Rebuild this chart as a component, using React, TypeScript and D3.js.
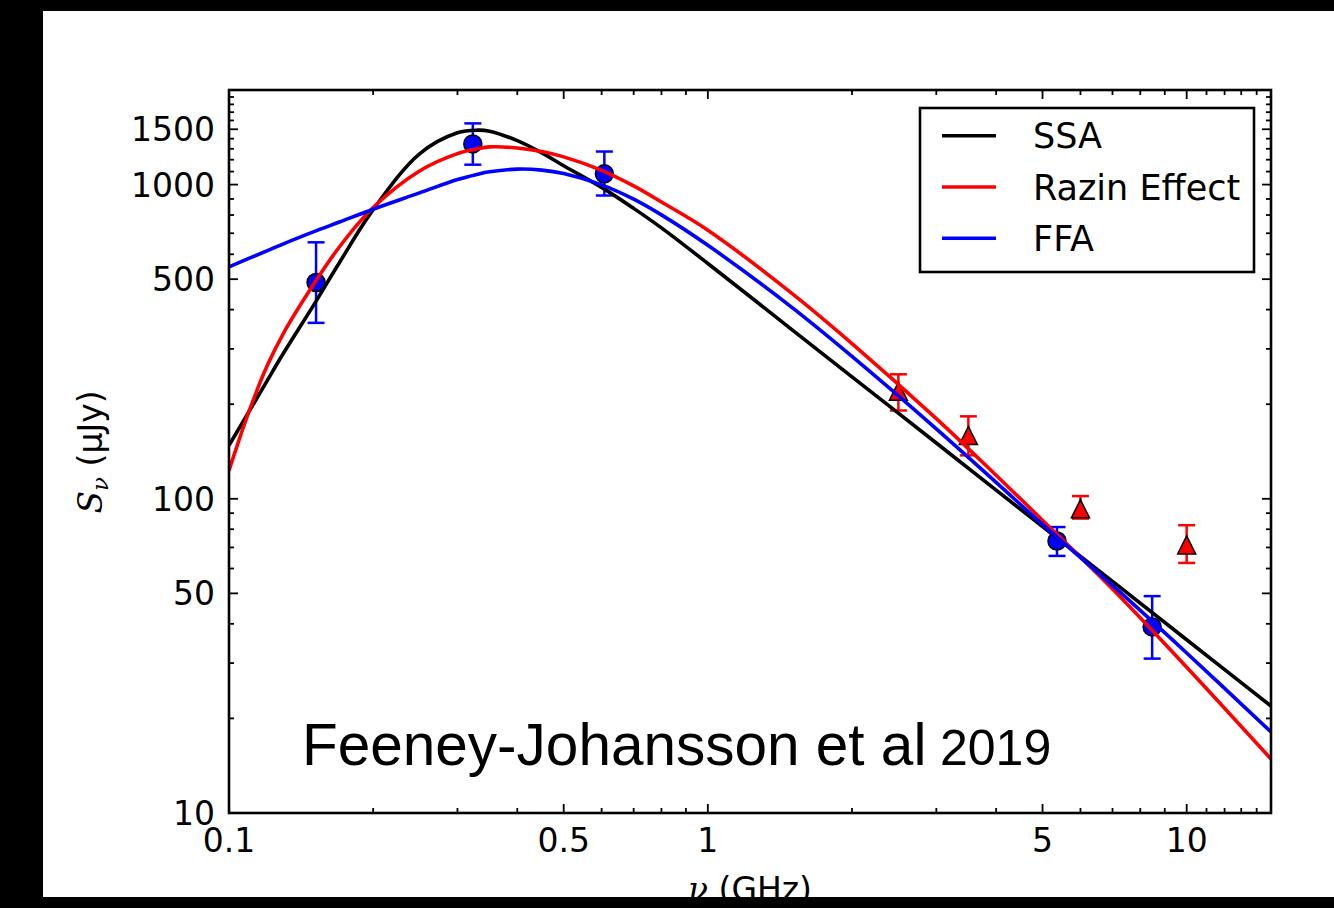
import React from 'react';
import * as d3 from 'd3';

// Model curves, frequency in GHz, flux in µJy
const freqGrid = [0.1, 0.11, 0.12, 0.13, 0.15, 0.17, 0.2, 0.25, 0.3, 0.33, 0.35, 0.4, 0.45, 0.5, 0.6, 0.7, 0.8, 1, 1.5, 2, 3, 4, 5, 7, 10, 15];
const ssaModel = [148, 189, 237, 291, 412, 564, 832, 1253, 1462, 1490, 1479, 1380, 1262, 1148, 980, 840, 728, 561, 345, 244.5, 150.5, 106.6, 81.6, 54.6, 35.6, 21.9];
const razinModel = [123, 189, 264, 337, 480, 633, 845, 1105, 1255, 1300, 1318, 1308, 1274, 1225, 1110, 990, 880, 716, 450, 312, 180, 118.8, 85.4, 51.6, 29.1, 14.85];
const ffaModel = [547, 582, 615, 648, 707, 760, 835, 941, 1038, 1078, 1098, 1120, 1112, 1084, 998, 899, 801, 641, 406, 284, 167, 112.8, 82.9, 53, 32.3, 18.1];

// Circle data points (blue)
const circFreq = [0.152, 0.323, 0.608, 5.36, 8.47];
const circFlux = [488, 1347, 1082, 73.4, 39.1];
const circLo = [363, 1157, 923, 65.8, 31.0];
const circHi = [655, 1566, 1274, 81.3, 49.0];

// Triangle data points (red)
const triFreq = [2.5, 3.5, 6.0, 10];
const triFlux = [220, 159, 93, 71.3];
const triLo = [191, 137.5, 86.5, 62.5];
const triHi = [249, 183, 102, 82.4];

const seriesNames = ['SSA', 'Razin Effect', 'FFA'];
const seriesColors = ['#000000', '#ff0000', '#0000ff'];

const xMajor = [0.1, 0.5, 1, 5, 10];
const xMajorLabels = ['0.1', '0.5', '1', '5', '10'];
const xMinor = [0.2, 0.3, 0.4, 0.6, 0.7, 0.8, 0.9, 2, 3, 4, 6, 7, 8, 9, 11, 12, 13, 14];
const yMajor = [10, 50, 100, 500, 1000, 1500];
const yMajorLabels = ['10', '50', '100', '500', '1000', '1500'];
const yMinor = [20, 30, 40, 60, 70, 80, 90, 200, 300, 400, 600, 700, 800, 900, 1100, 1200, 1300, 1400, 1600, 1700, 1800, 1900];

const W = 1334;
const H = 908;
const L = 229, R = 1271, T = 90, B = 813;

export default function App() {
  const x = d3.scaleLog().domain([0.1, 15]).range([L, R]);
  const y = d3.scaleLog().domain([10, 2000]).range([B, T]);

  const line = d3
    .line<[number, number]>()
    .x((d) => x(d[0]))
    .y((d) => y(d[1]))
    .curve(d3.curveCatmullRom.alpha(0.5));

  const models = [ssaModel, razinModel, ffaModel];
  const tickFont = 'DejaVu Sans';
  const majorLen = 9;
  const minorLen = 5;
  const capW = 8.5;
  const lw = 3.6;

  return (
    <svg
      width={W}
      height={H}
      style={{ position: 'absolute', left: 0, top: 0 }}
      xmlns="http://www.w3.org/2000/svg"
    >
      <rect x={0} y={0} width={W} height={H} fill="#000" />
      <rect x={43} y={11} width={W - 43} height={886} fill="#fff" />
      <defs>
        <clipPath id="plotclip">
          <rect x={L} y={T} width={R - L} height={B - T} />
        </clipPath>
      </defs>

      {/* Error bars */}
      <g>
        {circFreq.map((f, i) => (
          <g key={'ce' + i} stroke="#0000ff" strokeWidth={2.5}>
            <line x1={x(f)} x2={x(f)} y1={y(circLo[i])} y2={y(circHi[i])} />
            <line x1={x(f) - capW} x2={x(f) + capW} y1={y(circLo[i])} y2={y(circLo[i])} />
            <line x1={x(f) - capW} x2={x(f) + capW} y1={y(circHi[i])} y2={y(circHi[i])} />
          </g>
        ))}
        {triFreq.map((f, i) => (
          <g key={'te' + i} stroke="#ff0000" strokeWidth={2.5}>
            <line x1={x(f)} x2={x(f)} y1={y(triLo[i])} y2={y(triHi[i])} />
            <line x1={x(f) - capW} x2={x(f) + capW} y1={y(triLo[i])} y2={y(triLo[i])} />
            <line x1={x(f) - capW} x2={x(f) + capW} y1={y(triHi[i])} y2={y(triHi[i])} />
          </g>
        ))}
      </g>

      {/* Markers */}
      <g>
        {circFreq.map((f, i) => (
          <circle key={'c' + i} cx={x(f)} cy={y(circFlux[i])} r={9} fill="#0000ff" stroke="#000" strokeWidth={1.5} />
        ))}
        {triFreq.map((f, i) => {
          const cx = x(f);
          const cy = y(triFlux[i]);
          const s = 9;
          return (
            <path
              key={'t' + i}
              d={`M${cx},${cy - s}L${cx - s},${cy + s}L${cx + s},${cy + s}Z`}
              fill="#ff0000"
              stroke="#000"
              strokeWidth={1.5}
            />
          );
        })}
      </g>

      {/* Model curves */}
      <g clipPath="url(#plotclip)">
        {models.map((m, k) => (
          <path
            key={'m' + k}
            d={line(freqGrid.map((f, i) => [f, m[i]] as [number, number])) || ''}
            fill="none"
            stroke={seriesColors[k]}
            strokeWidth={lw}
            strokeLinejoin="round"
          />
        ))}
      </g>

      {/* Ticks */}
      <g stroke="#000" strokeWidth={1.8}>
        {xMajor.map((v, i) => (
          <g key={'xM' + i}>
            <line x1={x(v)} x2={x(v)} y1={B} y2={B - majorLen} />
            <line x1={x(v)} x2={x(v)} y1={T} y2={T + majorLen} />
          </g>
        ))}
        {xMinor.map((v, i) => (
          <g key={'xm' + i}>
            <line x1={x(v)} x2={x(v)} y1={B} y2={B - minorLen} />
            <line x1={x(v)} x2={x(v)} y1={T} y2={T + minorLen} />
          </g>
        ))}
        {yMajor.map((v, i) => (
          <g key={'yM' + i}>
            <line x1={L} x2={L + majorLen} y1={y(v)} y2={y(v)} />
            <line x1={R} x2={R - majorLen} y1={y(v)} y2={y(v)} />
          </g>
        ))}
        {yMinor.map((v, i) => (
          <g key={'ym' + i}>
            <line x1={L} x2={L + minorLen} y1={y(v)} y2={y(v)} />
            <line x1={R} x2={R - minorLen} y1={y(v)} y2={y(v)} />
          </g>
        ))}
      </g>

      {/* Frame */}
      <rect x={L} y={T} width={R - L} height={B - T} fill="none" stroke="#000" strokeWidth={2.6} />

      {/* Tick labels */}
      <g fontFamily={tickFont} fontSize={33} fill="#000">
        {xMajor.map((v, i) => (
          <text key={'xl' + i} x={x(v)} y={852} textAnchor="middle">
            {xMajorLabels[i]}
          </text>
        ))}
        {yMajor.map((v, i) => (
          <text key={'yl' + i} x={215} y={y(v) + 12} textAnchor="end">
            {yMajorLabels[i]}
          </text>
        ))}
      </g>

      {/* Axis labels */}
      <text x={(L + R) / 2} y={901} textAnchor="middle" fontFamily={tickFont} fontSize={33} fill="#000">
        <tspan fontFamily="DejaVu Serif" fontStyle="italic">ν</tspan>
        <tspan> (GHz)</tspan>
      </text>
      <text
        transform={`translate(102, 452) rotate(-90)`}
        textAnchor="middle"
        fontFamily={tickFont}
        fontSize={33}
        fill="#000"
      >
        <tspan fontFamily="DejaVu Serif" fontStyle="italic">S</tspan>
        <tspan fontFamily="DejaVu Serif" fontStyle="italic" fontSize={23} dy={6}>ν</tspan>
        <tspan dy={-6}> (µJy)</tspan>
      </text>

      {/* Annotation */}
      <text x={302} y={765} fontFamily="Liberation Sans" fontSize={58.5} fill="#000">
        Feeney-Johansson et al
      </text>
      <text x={940} y={765} fontFamily="Liberation Sans" fontSize={50} fill="#000">
        2019
      </text>

      {/* Legend */}
      <g>
        <rect x={920} y={108} width={334} height={164} fill="#fff" stroke="#000" strokeWidth={2.6} />
        {seriesNames.map((n, i) => {
          const ly = 135.7 + i * 51.3;
          return (
            <g key={'lg' + i}>
              <line x1={942} x2={996} y1={ly} y2={ly} stroke={seriesColors[i]} strokeWidth={lw} />
              <text x={1033} y={ly + 12.5} fontFamily={tickFont} fontSize={35} fill="#000">
                {n}
              </text>
            </g>
          );
        })}
      </g>
    </svg>
  );
}
